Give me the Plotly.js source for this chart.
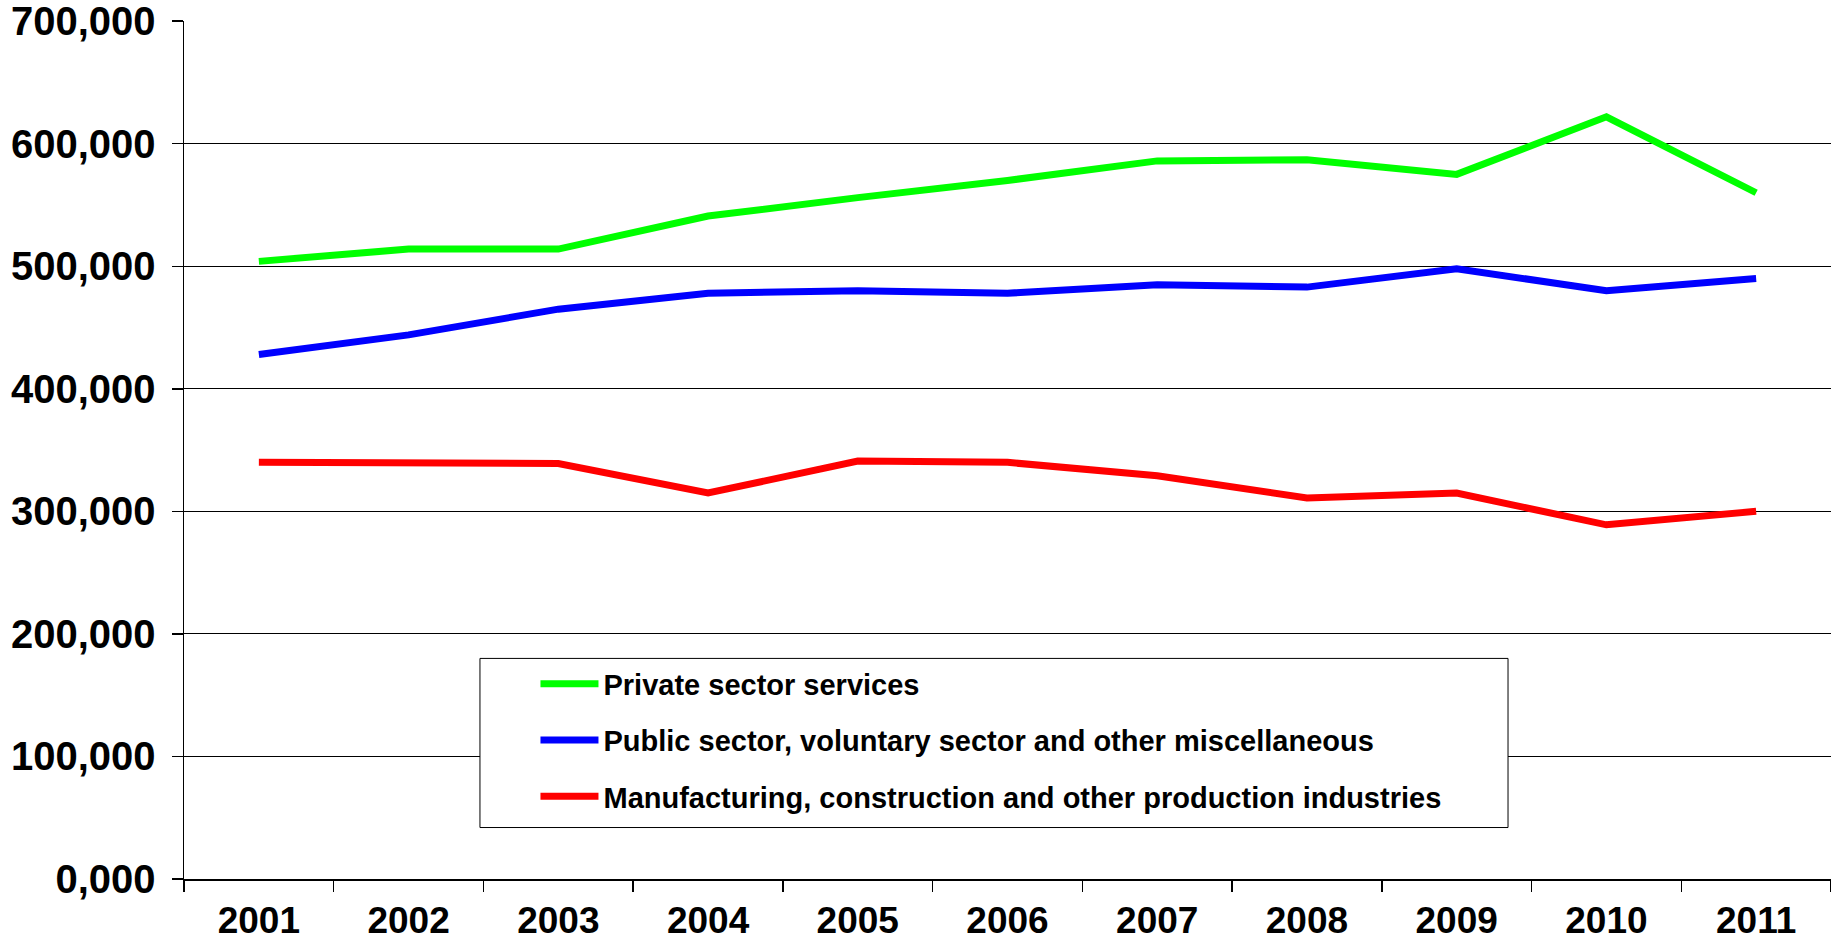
<!DOCTYPE html>
<html>
<head>
<meta charset="utf-8">
<script src="https://cdn.plot.ly/plotly-3.0.1.min.js"></script>
<style>
  html, body { margin: 0; padding: 0; background: #fff; }
  #chart { width: 1831px; height: 942px; }
</style>
</head>
<body>
<div id="chart"></div>
<script>
var years = ['2001','2002','2003','2004','2005','2006','2007','2008','2009','2010','2011'];
var privateServices = [504000, 514000, 514000, 541000, 556000, 570000, 586000, 587000, 575000, 622000, 560000];
var publicSector = [428000, 444000, 465000, 478000, 480000, 478000, 485000, 483000, 498000, 480000, 490000];
var manufacturing = [340000, 340000, 339000, 315000, 341000, 340000, 329000, 311000, 315000, 289000, 300000];
var seriesNames = ['Private sector services', 'Public sector, voluntary sector and other miscellaneous', 'Manufacturing, construction and other production industries'];
var yTickVals = [0, 100000, 200000, 300000, 400000, 500000, 600000, 700000];
var yTickText = ['0,000', '100,000', '200,000', '300,000', '400,000', '500,000', '600,000', '700,000'];

var fontFam = 'Arial, "Liberation Sans", sans-serif';

function mk(y, name, color, grp) {
  return {
    x: years, y: y, name: name, type: 'scatter', mode: 'lines',
    line: { color: color, width: 7 },
    legendgroup: grp, hoverinfo: 'x+y'
  };
}

var data = [
  mk(privateServices, seriesNames[0], '#00FF00', 'a'),
  mk(publicSector, seriesNames[1], '#0000FF', 'b'),
  mk(manufacturing, seriesNames[2], '#FF0000', 'c')
];

var layout = {
  width: 1831, height: 942,
  margin: { l: 184, r: 0, t: 21, b: 63, pad: 0 },
  paper_bgcolor: '#fff', plot_bgcolor: '#fff',
  showlegend: true,
  legend: {
    x: 0.2134, y: 0.257, xanchor: 'left', yanchor: 'top',
    bgcolor: 'rgba(0,0,0,0)', borderwidth: 0,
    traceorder: 'grouped', tracegroupgap: 15.5,
    itemwidth: 58,
    font: { family: fontFam, size: 29, color: '#000', weight: 'bold' }
  },
  xaxis: {
    type: 'category', range: [-0.5, 10.5],
    showgrid: false, zeroline: false,
    showline: true, linecolor: '#000', linewidth: 1.5,
    ticks: 'outside', ticklen: 11, tickcolor: '#000', tickwidth: 1.5,
    tickson: 'boundaries', ticklabelstandoff: 8,
    tickfont: { family: fontFam, size: 37, color: '#000', weight: 'bold' }
  },
  yaxis: {
    range: [0, 700150], tickmode: 'array', tickvals: yTickVals, ticktext: yTickText,
    showgrid: true, gridcolor: '#000', gridwidth: 1,
    zeroline: false,
    showline: true, linecolor: '#000', linewidth: 1.5,
    ticks: 'outside', ticklen: 11, tickcolor: '#000', tickwidth: 1.5,
    ticklabelstandoff: 8, ticklabeloverflow: 'allow',
    tickfont: { family: fontFam, size: 40, color: '#000', weight: 'bold' }
  },
  shapes: [{
    type: 'rect', xref: 'paper', yref: 'paper',
    x0: 0.1797, x1: 0.8039, y0: 0.060, y1: 0.2571,
    line: { color: '#000', width: 1 }, fillcolor: '#fff', layer: 'above'
  }]
};

Plotly.newPlot('chart', data, layout, { displayModeBar: false, staticPlot: true });
</script>
</body>
</html>
